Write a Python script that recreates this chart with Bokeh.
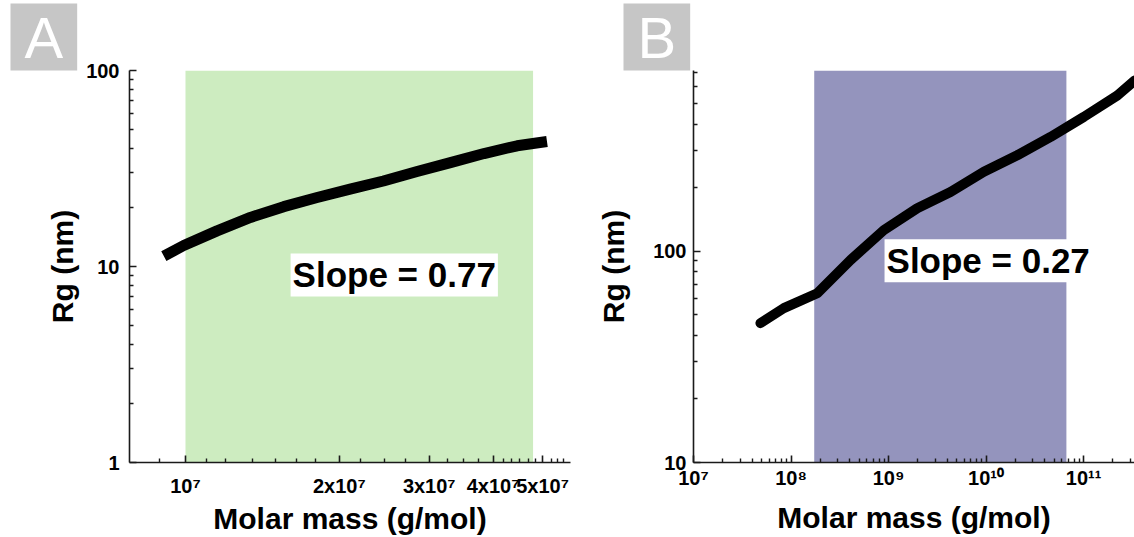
from bokeh.plotting import figure
from bokeh.layouts import row
from bokeh.models import FixedTicker, Label, BoxAnnotation, Title
from bokeh.embed import file_html
from bokeh.resources import INLINE

# ---------------- data ----------------
# Panel A
mass_a = [9.07e6, 9.92e6, 1.153e7, 1.34e7, 1.557e7, 1.81e7, 2.10e7, 2.44e7,
          2.84e7, 3.30e7, 3.84e7, 4.46e7, 5.10e7]
rg_a = [11.3, 12.8, 15.2, 17.8, 20.2, 22.5, 24.8, 27.3, 30.5, 33.9, 37.7, 41.3, 43.4]
band_a = [1.0e7, 4.79e7]
slope_a = "Slope = 0.77"

xticks_a = [1e7, 2e7, 3e7, 4e7, 5e7]
xlabels_a = ["10⁷", "2x10⁷", "3x10⁷", "4x10⁷", "5x10⁷"]
xminor_a = [8.9e6, 1.1e7, 1.2e7, 1.35e7, 1.5e7, 1.65e7, 1.8e7, 2.2e7, 2.45e7, 2.7e7,
            3.25e7, 3.5e7, 3.75e7, 4.2e7, 4.35e7, 4.5e7, 4.7e7, 4.85e7, 5.2e7, 5.35e7, 5.5e7]
yticks_a = [1, 10, 100]
ylabels_a = ["1", "10", "100"]

# Panel B
mass_b = [4.86e7, 8.44e7, 1.86e8, 4.08e8, 8.95e8, 1.97e9, 4.32e9, 9.5e9,
          2.09e10, 4.59e10, 1.007e11, 2.22e11, 3.34e11]
rg_b = [45.7, 53.8, 63.3, 91.0, 126, 160, 191, 238, 285, 348, 433, 547, 644]
band_b = [1.73e8, 6.67e10]
slope_b = "Slope = 0.27"

xticks_b = [1e7, 1e8, 1e9, 1e10, 1e11]
xlabels_b = ["10⁷", "10⁸", "10⁹", "10¹⁰", "10¹¹"]
yticks_b = [10, 100]
ylabels_b = ["10", "100"]

FONT = "Liberation Sans"


def minor_log(decades, top=None):
    out = []
    for d in decades:
        for m in range(2, 10):
            v = m * 10.0 ** d
            if top is None or v <= top:
                out.append(v)
    return out


def style(p, xtick_standoff, xlab_standoff, ytick_standoff, ylab_standoff):
    p.outline_line_color = None
    p.grid.visible = False
    p.background_fill_color = "white"
    p.border_fill_color = "white"
    for ax in (p.xaxis[0], p.yaxis[0]):
        ax.axis_line_color = "#1a1a1a"
        ax.axis_line_width = 1.6
        ax.major_tick_line_color = "#1a1a1a"
        ax.major_tick_line_width = 1.6
        ax.minor_tick_line_color = "#1a1a1a"
        ax.minor_tick_line_width = 1.4
        ax.major_tick_in = 7
        ax.major_tick_out = 0
        ax.minor_tick_in = 4
        ax.minor_tick_out = 0
        ax.major_label_text_font = FONT
        ax.major_label_text_font_style = "bold"
        ax.major_label_text_font_size = "20px"
        ax.major_label_text_color = "black"
        ax.axis_label_text_font = FONT
        ax.axis_label_text_font_style = "bold"
        ax.axis_label_text_font_size = "30px"
        ax.axis_label_text_color = "black"
    p.xaxis[0].major_label_standoff = xtick_standoff
    p.xaxis[0].axis_label_standoff = xlab_standoff
    p.yaxis[0].major_label_standoff = ytick_standoff
    p.yaxis[0].axis_label_standoff = ylab_standoff


def panel_letter(p, letter, offset):
    p.add_layout(Title(text=letter, align="left", offset=offset, vertical_align="bottom",
                       standoff=0, text_font=FONT, text_font_size="58px",
                       text_font_style="normal", text_color="white",
                       background_fill_color="#c6c6c6",
                       padding=dict(left=14, right=14, top=1, bottom=1)), "above")


# ---------------- panel A ----------------
pA = figure(width=580, height=537, x_axis_type="log", y_axis_type="log",
            x_range=(7.77e6, 5.67e7), y_range=(1, 100), title=None,
            output_backend="svg", toolbar_location=None,
            min_border_left=129, min_border_right=10, min_border_top=70, min_border_bottom=72)
pA.add_layout(BoxAnnotation(left=band_a[0], right=band_a[1], fill_color="#cdecc0",
                            fill_alpha=1.0, line_color=None, level="underlay"))
pA.line(mass_a, rg_a, line_width=11, line_color="black", line_cap="butt", line_join="round")
pA.xaxis.ticker = FixedTicker(ticks=xticks_a, minor_ticks=xminor_a)
pA.xaxis.major_label_overrides = dict(zip(xticks_a, xlabels_a))
pA.yaxis.ticker = FixedTicker(ticks=yticks_a, minor_ticks=minor_log([0, 1]))
pA.yaxis.major_label_overrides = dict(zip(yticks_a, ylabels_a))
pA.xaxis.axis_label = "Molar mass (g/mol)"
pA.yaxis.axis_label = "Rg (nm)"
style(pA, 12, 2, 10, 4)
pA.add_layout(Label(x=1.606e7, y=9.06, text=slope_a, text_font=FONT,
                    text_font_size="35px", text_font_style="bold", text_color="black",
                    text_baseline="middle", background_fill_color="white", padding=2))
panel_letter(pA, "A", -119)

# ---------------- panel B ----------------
pB = figure(width=554, height=537, x_axis_type="log", y_axis_type="log",
            x_range=(1e7, 3.33e11), y_range=(10, 718), title=None,
            output_backend="svg", toolbar_location=None,
            min_border_left=113, min_border_right=0, min_border_top=70, min_border_bottom=72)
pB.add_layout(BoxAnnotation(left=band_b[0], right=band_b[1], fill_color="#9494bd",
                            fill_alpha=1.0, line_color=None, level="underlay"))
pB.line(mass_b, rg_b, line_width=10, line_color="black", line_cap="round", line_join="round")
pB.xaxis.ticker = FixedTicker(ticks=xticks_b, minor_ticks=minor_log([7, 8, 9, 10, 11], top=3.4e11))
pB.xaxis.major_label_overrides = dict(zip(xticks_b, xlabels_b))
pB.yaxis.ticker = FixedTicker(ticks=yticks_b, minor_ticks=minor_log([1, 2], top=718))
pB.yaxis.major_label_overrides = dict(zip(yticks_b, ylabels_b))
pB.xaxis.axis_label = "Molar mass (g/mol)"
pB.yaxis.axis_label = "Rg (nm)"
style(pB, 4, 9, 7, 20)
pB.add_layout(Label(x=9.1e8, y=90.3, text=slope_b, text_font=FONT,
                    text_font_size="35px", text_font_style="bold", text_color="black",
                    text_baseline="middle", background_fill_color="white", padding=2))
panel_letter(pB, "B", -70)

layout = row(pA, pB)
open("out.html", "w").write(file_html(layout, INLINE))
